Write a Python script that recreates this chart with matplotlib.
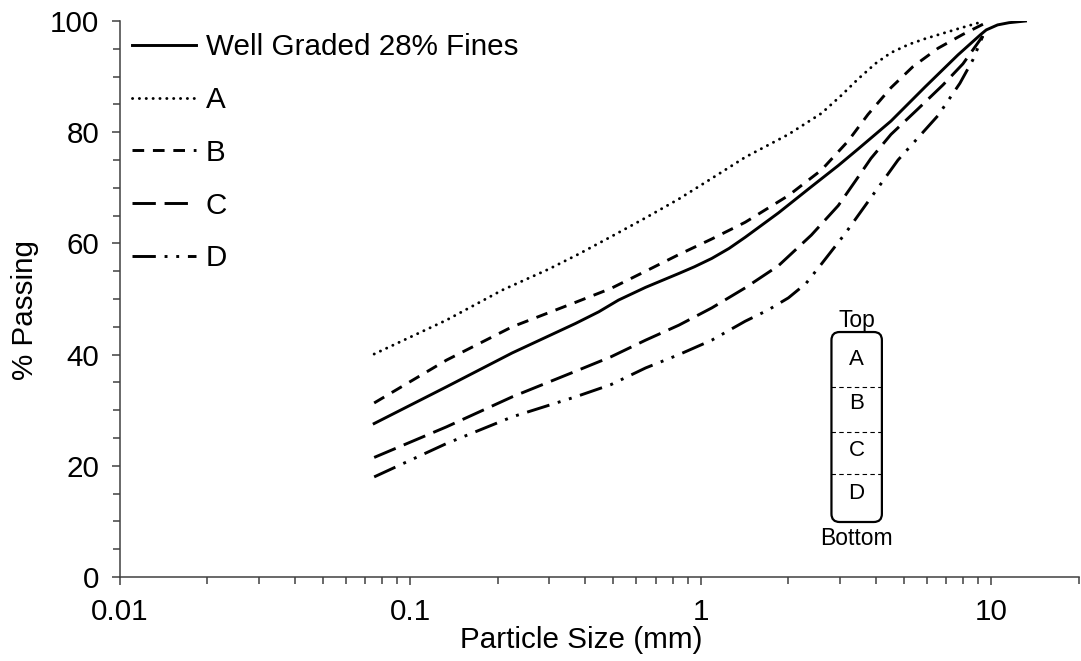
import matplotlib
matplotlib.use("Agg")
import matplotlib.pyplot as plt
from matplotlib.patches import FancyBboxPatch
from matplotlib.ticker import LogLocator, FixedLocator, FuncFormatter, MultipleLocator

plt.rcParams["font.family"] = ["Liberation Sans", "DejaVu Sans"]

# ---------------------------------------------------------
# gradation curves (particle size in mm, % passing)
# ---------------------------------------------------------

well_size = [0.075, 0.133, 0.224, 0.37, 0.445, 0.52, 0.645, 0.84, 0.95, 1.09,
             1.25, 1.42, 1.85, 2.40, 2.97, 3.48, 4.51, 5.90, 7.67, 9.20, 9.6,
             10.5, 11.5, 13.1]
well_pass = [27.6, 34.2, 40.3, 45.6, 47.7, 49.8, 52.1, 54.6, 55.8, 57.3,
             59.1, 61.1, 65.5, 70.2, 74.0, 77.0, 82.0, 88.1, 93.9, 97.6, 98.4,
             99.3, 99.7, 100.0]

a_size = [0.075, 0.133, 0.207, 0.30, 0.38, 0.49, 0.645, 0.84, 1.09, 1.42,
          2.0, 2.60, 3.04, 3.48, 4.0, 4.51, 5.2, 5.90, 7.67, 9.34]
a_pass = [40.1, 46.2, 51.6, 55.4, 58.1, 61.2, 64.6, 68.0, 71.7, 75.5,
          79.6, 83.4, 86.6, 89.6, 92.4, 94.3, 95.8, 96.8, 98.6, 99.9]

b_size = [0.075, 0.133, 0.224, 0.37, 0.49, 0.645, 0.84, 1.09, 1.42, 2.0,
          2.60, 3.21, 3.76, 4.51, 5.37, 6.55, 7.98, 9.5]
b_pass = [31.3, 39.0, 45.0, 49.4, 51.9, 55.0, 58.0, 60.8, 63.8, 68.6,
          73.2, 78.4, 83.2, 88.0, 91.8, 95.1, 97.6, 99.6]

c_size = [0.075, 0.133, 0.224, 0.37, 0.49, 0.645, 0.84, 1.09, 1.42, 1.85,
          2.40, 2.97, 3.40, 3.85, 4.51, 5.59, 6.81, 7.98, 9.34]
c_pass = [21.5, 27.0, 32.4, 37.0, 39.6, 42.6, 45.3, 48.4, 52.0, 56.0,
          61.5, 66.8, 71.2, 75.3, 79.6, 84.2, 88.5, 92.3, 97.3]

d_size = [0.075, 0.133, 0.224, 0.37, 0.49, 0.645, 0.84, 1.09, 1.42, 1.7,
          2.0, 2.3, 2.60, 3.14, 3.76, 4.31, 4.77, 5.59, 6.55, 7.79, 8.63, 9.34]
d_pass = [18.0, 24.0, 28.8, 32.4, 34.6, 37.6, 40.0, 42.6, 46.0, 48.0,
          50.2, 52.8, 56.3, 61.8, 67.5, 71.8, 75.0, 79.0, 83.0, 88.8, 93.0, 97.3]

series_labels = ["Well Graded 28% Fines", "A", "B", "C", "D"]
layer_labels = ["A", "B", "C", "D"]

# ---------------------------------------------------------
# figure
# ---------------------------------------------------------

fig = plt.figure(figsize=(10.81, 6.61), dpi=100)
ax = fig.add_axes([0.111, 0.1271, 0.887, 0.8411])

lw = 2.1
common = dict(color="black", lw=lw, solid_joinstyle="round",
              dash_joinstyle="round")
ax.plot(well_size, well_pass, ls="-", label=series_labels[0], **common)
ax.plot(a_size, a_pass, ls=(0, (0.05, 2.3)), dash_capstyle="round",
        label=series_labels[1], **common)
ax.plot(b_size, b_pass, ls=(0, (4, 3)), label=series_labels[2], **common)
ax.plot(c_size, c_pass, ls=(0, (8, 3)), label=series_labels[3], **common)
ax.plot(d_size, d_pass, ls=(0, (8, 3, 1, 3, 1, 3)), label=series_labels[4],
        **common)

ax.set_xscale("log")
ax.set_xlim(0.01, 20)
ax.set_ylim(0, 100)

ax.xaxis.set_major_locator(FixedLocator([0.01, 0.1, 1, 10]))
ax.xaxis.set_major_formatter(FuncFormatter(lambda v, p: f"{v:g}"))
ax.xaxis.set_minor_locator(LogLocator(base=10, subs=range(2, 10), numticks=20))
ax.yaxis.set_major_locator(MultipleLocator(20))
ax.yaxis.set_minor_locator(MultipleLocator(5))

for side in ["top", "right"]:
    ax.spines[side].set_visible(False)
for side in ["left", "bottom"]:
    ax.spines[side].set_color("#404040")
    ax.spines[side].set_linewidth(1.1)

ax.tick_params(which="major", direction="out", length=6, width=1.1,
               color="#404040", labelsize=21.3, pad=9)
ax.tick_params(which="minor", direction="out", length=5, width=1.1,
               color="#404040")

ax.set_xlabel("Particle Size (mm)", fontsize=21.3, va="center")
ax.xaxis.set_label_coords(0.481, -0.113)
ax.set_ylabel("% Passing", fontsize=21.3, va="center")
ax.yaxis.set_label_coords(-0.099, 0.48)

leg = ax.legend(loc="upper left", bbox_to_anchor=(0.0063, 0.989),
                frameon=False, fontsize=21.3, handlelength=2.16,
                handletextpad=0.34, labelspacing=0.84, borderaxespad=0.0,
                borderpad=0.2)

# ---------------------------------------------------------
# layer sketch (top to bottom)
# ---------------------------------------------------------

x0, x1 = 0.742, 0.7946
y0, y1 = 0.0989, 0.4406
aspect = 959 / 556
box = FancyBboxPatch((x0, y0), x1 - x0, y1 - y0,
                     boxstyle="round,pad=0,rounding_size=0.0085",
                     mutation_aspect=aspect, transform=ax.transAxes,
                     facecolor="white", edgecolor="black", lw=1.6,
                     clip_on=False, zorder=5)
ax.add_patch(box)

for ys in [0.3417, 0.2608, 0.1853]:
    ax.plot([x0, x1], [ys, ys], transform=ax.transAxes, color="black",
            lw=0.8, ls=(0, (4, 3)), zorder=6, clip_on=False)

xc = (x0 + x1) / 2
for name, yc in zip(layer_labels, [0.392, 0.3129, 0.2284, 0.151]):
    ax.text(xc, yc, name, transform=ax.transAxes, ha="center", va="center",
            fontsize=16, zorder=7)
ax.text(xc, 0.462, "Top", transform=ax.transAxes, ha="center", va="center",
        fontsize=16.5, zorder=7)
ax.text(xc, 0.070, "Bottom", transform=ax.transAxes, ha="center", va="center",
        fontsize=16.5, zorder=7)

fig.savefig("out.png", dpi=100)
